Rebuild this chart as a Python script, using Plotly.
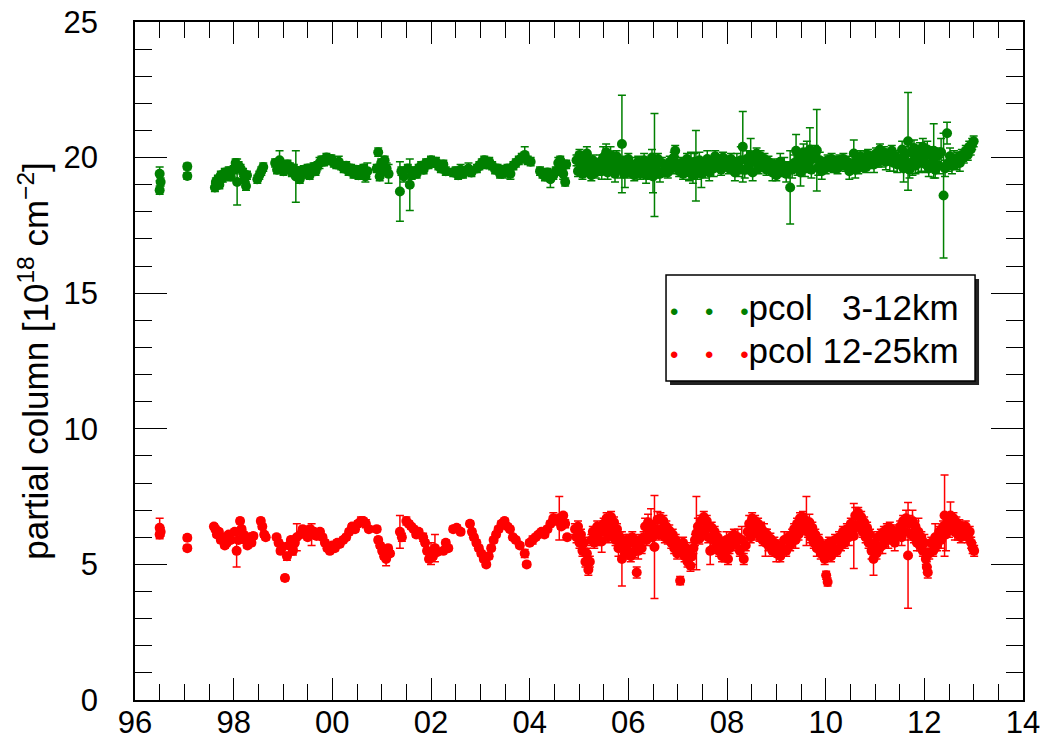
import plotly.graph_objects as go

# ---------------- data ----------------
g_year = [1996.50, 1996.52, 1996.50, 1997.06, 1997.06, 1997.62, 1997.64, 1997.68, 1997.71, 1997.74,
          1997.78, 1997.82, 1997.86, 1997.90, 1997.94, 1998.00, 1998.04, 1998.07, 1998.10, 1998.14,
          1998.19, 1998.22, 1998.25, 1998.27, 1998.48, 1998.52, 1998.56, 1998.60, 1998.84, 1998.88,
          1998.93, 1998.97, 1999.01, 1999.05, 1999.09, 1999.14, 1999.18, 1999.22, 1999.26, 1999.30,
          1999.34, 1999.38, 1999.42, 1999.46, 1999.50, 1999.54, 1999.58, 1999.62, 1999.66, 1999.70,
          1999.74, 1999.78, 1999.83, 1999.88, 1999.93, 1999.98, 2000.03, 2000.08, 2000.13, 2000.18,
          2000.23, 2000.28, 2000.33, 2000.38, 2000.43, 2000.48, 2000.53, 2000.58, 2000.63, 2000.67,
          2000.71, 2000.90, 2000.93, 2000.96, 2000.99, 2001.03, 2001.06, 2001.10, 2001.14, 2001.37,
          2001.40, 2001.45, 2001.53, 2001.57, 2001.61, 2001.66, 2001.71, 2001.75, 2001.80, 2001.85,
          2001.90, 2001.95, 2002.00, 2002.05, 2002.10, 2002.15, 2002.20, 2002.25, 2002.30, 2002.45,
          2002.50, 2002.55, 2002.60, 2002.65, 2002.70, 2002.76, 2002.82, 2002.93, 2002.98, 2003.03,
          2003.08, 2003.13, 2003.18, 2003.24, 2003.30, 2003.35, 2003.40, 2003.45, 2003.50, 2003.55,
          2003.61, 2003.67, 2003.72, 2003.78, 2003.84, 2003.90, 2003.96, 2004.02, 2004.21, 2004.26,
          2004.31, 2004.36, 2004.42, 2004.48, 2004.53, 2004.58, 2004.62, 2004.65, 2004.68, 2004.72,
          2004.74, 2004.95, 2004.98, 2005.01, 2005.04, 2005.07, 2005.10, 2005.13, 2005.16, 2005.19,
          2005.22, 2005.25, 2005.28, 2005.31, 2005.34, 2005.37, 2005.40, 2005.43, 2005.46, 2005.49,
          2005.52, 2005.55, 2005.58, 2005.61, 2005.64, 2005.67, 2005.70, 2005.73, 2005.76, 2005.80,
          2005.84, 2005.87, 2005.90, 2005.93, 2005.97, 2006.00, 2006.04, 2006.08, 2006.12, 2006.16,
          2006.20, 2006.24, 2006.28, 2006.32, 2006.36, 2006.40, 2006.44, 2006.48, 2006.50, 2006.53,
          2006.56, 2006.60, 2006.64, 2006.68, 2006.72, 2006.76, 2006.80, 2006.84, 2006.88, 2006.92,
          2006.95, 2006.99, 2007.03, 2007.07, 2007.11, 2007.15, 2007.19, 2007.23, 2007.27, 2007.31,
          2007.34, 2007.37, 2007.40, 2007.44, 2007.48, 2007.52, 2007.56, 2007.60, 2007.64, 2007.68,
          2007.73, 2007.76, 2007.80, 2007.84, 2007.88, 2007.92, 2007.96, 2008.00, 2008.04, 2008.08,
          2008.12, 2008.16, 2008.20, 2008.24, 2008.28, 2008.32, 2008.36, 2008.40, 2008.44, 2008.48,
          2008.52, 2008.56, 2008.60, 2008.64, 2008.68, 2008.72, 2008.76, 2008.80, 2008.84, 2008.88,
          2008.92, 2008.96, 2009.00, 2009.04, 2009.08, 2009.12, 2009.16, 2009.20, 2009.24, 2009.28,
          2009.32, 2009.36, 2009.40, 2009.43, 2009.46, 2009.49, 2009.52, 2009.55, 2009.58, 2009.62,
          2009.65, 2009.68, 2009.71, 2009.74, 2009.78, 2009.82, 2009.85, 2009.88, 2009.92, 2009.96,
          2010.00, 2010.04, 2010.08, 2010.12, 2010.16, 2010.20, 2010.24, 2010.28, 2010.32, 2010.36,
          2010.40, 2010.44, 2010.48, 2010.52, 2010.57, 2010.60, 2010.63, 2010.66, 2010.70, 2010.74,
          2010.78, 2010.82, 2010.86, 2010.90, 2010.94, 2010.98, 2011.02, 2011.06, 2011.10, 2011.14,
          2011.18, 2011.22, 2011.26, 2011.30, 2011.34, 2011.38, 2011.42, 2011.45, 2011.52, 2011.55,
          2011.58, 2011.61, 2011.64, 2011.67, 2011.70, 2011.73, 2011.76, 2011.79, 2011.82, 2011.85,
          2011.88, 2011.91, 2011.94, 2011.97, 2012.00, 2012.03, 2012.06, 2012.09, 2012.12, 2012.16,
          2012.19, 2012.22, 2012.26, 2012.30, 2012.34, 2012.39, 2012.42, 2012.46, 2012.49, 2012.52,
          2012.56, 2012.60, 2012.64, 2012.68, 2012.72, 2012.76, 2012.80, 2012.84, 2012.88, 2012.91,
          2012.94, 2012.97, 2013.00]

g_val = [19.40, 19.10, 18.80, 19.67, 19.32, 18.90, 19.10, 19.20, 19.00, 19.35,
         19.25, 19.45, 19.35, 19.50, 19.30, 19.55, 19.80, 19.10, 19.70, 19.60,
         19.45, 19.20, 18.95, 19.35, 19.20, 19.35, 19.50, 19.65, 19.80, 19.55,
         19.90, 19.70, 19.50, 19.60, 19.75, 19.65, 19.45, 19.60, 19.30, 19.50,
         19.20, 19.45, 19.55, 19.45, 19.60, 19.35, 19.55, 19.65, 19.50, 19.70,
         19.80, 19.90, 19.85, 20.00, 19.90, 19.95, 19.80, 19.75, 19.85, 19.70,
         19.60, 19.70, 19.50, 19.60, 19.40, 19.55, 19.35, 19.50, 19.60, 19.30,
         19.50, 19.60, 20.20, 19.30, 19.80, 19.50, 19.90, 19.60, 19.40, 18.75,
         19.50, 19.30, 19.60, 19.00, 19.35, 19.50, 19.40, 19.60, 19.70, 19.55,
         19.80, 19.75, 19.90, 19.80, 19.85, 19.70, 19.60, 19.75, 19.50, 19.45,
         19.50, 19.35, 19.55, 19.40, 19.50, 19.60, 19.45, 19.60, 19.70, 19.80,
         19.90, 19.75, 19.85, 19.70, 19.55, 19.60, 19.40, 19.55, 19.45, 19.60,
         19.40, 19.70, 19.80, 19.90, 20.00, 20.10, 19.90, 19.85, 19.50, 19.40,
         19.30, 19.45, 19.20, 19.35, 19.50, 19.80, 19.90, 19.60, 19.40, 19.10,
         19.75, 19.90, 19.50, 20.10, 19.70, 19.40, 19.95, 19.60, 20.15, 19.50,
         19.80, 19.35, 19.90, 19.60, 19.45, 19.75, 19.55, 19.85, 19.50, 20.00,
         19.65, 20.20, 19.45, 19.80, 20.10, 19.60, 19.90, 19.40, 20.05, 19.70,
         19.55, 20.50, 19.85, 19.40, 19.70, 19.95, 19.45, 19.75, 19.35, 19.60,
         19.85, 19.40, 19.65, 19.90, 19.35, 19.75, 19.50, 20.00, 19.30, 19.73,
         19.55, 19.95, 19.40, 19.80, 19.50, 19.65, 19.45, 19.85, 19.60, 20.00,
         20.25, 19.70, 19.50, 19.80, 19.40, 19.65, 19.95, 19.45, 19.70, 19.35,
         19.85, 19.70, 19.50, 19.90, 19.40, 19.75, 19.55, 19.95, 19.45, 19.80,
         19.60, 20.05, 19.70, 19.90, 19.55, 20.00, 19.75, 19.85, 19.60, 19.95,
         19.70, 19.45, 19.85, 19.60, 19.90, 20.40, 19.55, 19.95, 19.70, 20.10,
         19.45, 19.85, 20.15, 19.60, 20.05, 19.75, 19.95, 19.55, 19.85, 19.70,
         19.45, 19.75, 19.35, 19.60, 19.85, 19.50, 19.70, 19.40, 19.65, 18.90,
         19.55, 19.80, 20.25, 19.65, 20.00, 19.45, 19.85, 20.20, 19.60, 20.10,
         19.75, 20.30, 19.55, 19.95, 20.15, 20.27, 19.65, 19.90, 19.50, 19.80,
         19.60, 19.90, 19.70, 19.95, 19.65, 19.85, 19.60, 19.90, 19.75, 19.95,
         19.70, 19.85, 19.50, 19.75, 20.15, 19.55, 19.90, 19.60, 20.05, 19.70,
         19.95, 19.65, 20.10, 19.80, 20.00, 19.75, 20.15, 19.85, 20.30, 19.95,
         20.20, 19.85, 20.10, 19.90, 20.25, 19.80, 20.05, 19.75, 19.90, 20.30,
         19.60, 20.10, 19.80, 20.60, 19.55, 20.20, 19.85, 20.35, 19.70, 20.05,
         19.95, 20.25, 19.80, 20.40, 20.00, 19.75, 20.30, 19.60, 20.10, 19.80,
         20.25, 19.55, 20.05, 19.70, 20.20, 18.60, 19.60, 20.90, 19.80, 20.05,
         19.70, 19.95, 19.75, 20.00, 19.80, 20.10, 20.00, 20.25, 20.10, 20.40,
         20.30, 20.50, 20.60]

g_err = [0.25, 0.15, 0.15, 0.12, 0.12, 0.15, 0.15, 0.15, 0.15, 0.15,
         0.15, 0.15, 0.15, 0.15, 0.15, 0.15, 0.15, 0.85, 0.15, 0.15,
         0.15, 0.15, 0.15, 0.15, 0.15, 0.15, 0.15, 0.15, 0.15, 0.15,
         0.35, 0.15, 0.15, 0.15, 0.15, 0.15, 0.15, 0.15, 0.95, 0.15,
         0.15, 0.20, 0.15, 0.20, 0.15, 0.15, 0.20, 0.15, 0.15, 0.15,
         0.20, 0.15, 0.15, 0.15, 0.15, 0.15, 0.15, 0.15, 0.20, 0.15,
         0.15, 0.15, 0.15, 0.15, 0.15, 0.15, 0.15, 0.15, 0.15, 0.20,
         0.30, 0.15, 0.15, 0.15, 0.15, 0.15, 0.15, 0.20, 0.35, 1.10,
         0.15, 0.20, 0.15, 0.95, 0.15, 0.15, 0.15, 0.15, 0.15, 0.15,
         0.15, 0.15, 0.15, 0.15, 0.15, 0.15, 0.15, 0.15, 0.15, 0.15,
         0.15, 0.15, 0.20, 0.15, 0.15, 0.20, 0.15, 0.15, 0.15, 0.15,
         0.15, 0.15, 0.15, 0.15, 0.15, 0.15, 0.15, 0.15, 0.20, 0.15,
         0.20, 0.15, 0.15, 0.15, 0.15, 0.30, 0.15, 0.15, 0.15, 0.15,
         0.15, 0.15, 0.30, 0.15, 0.15, 0.20, 0.15, 0.15, 0.20, 0.15,
         0.15, 0.20, 0.20, 0.20, 0.20, 0.20, 0.20, 0.20, 0.25, 0.20,
         0.20, 0.20, 0.20, 0.20, 0.20, 0.20, 0.20, 0.25, 0.30, 0.40,
         0.20, 0.30, 0.25, 0.20, 0.30, 0.20, 0.20, 0.30, 0.20, 0.20,
         0.30, 1.80, 0.20, 0.50, 0.20, 0.20, 0.20, 0.25, 0.20, 0.20,
         0.20, 0.20, 0.20, 0.25, 0.30, 0.20, 0.30, 0.30, 0.60, 1.90,
         0.30, 0.20, 0.30, 0.20, 0.20, 0.20, 0.20, 0.20, 0.20, 0.20,
         0.20, 0.20, 0.20, 0.20, 0.20, 0.25, 0.20, 0.30, 0.50, 0.30,
         0.30, 1.30, 0.30, 0.30, 0.50, 0.20, 0.30, 0.30, 0.30, 0.20,
         0.30, 0.20, 0.20, 0.20, 0.20, 0.20, 0.20, 0.20, 0.20, 0.20,
         0.20, 0.30, 0.30, 0.30, 0.50, 1.30, 0.30, 0.30, 0.30, 0.60,
         0.30, 0.20, 0.20, 0.20, 0.20, 0.20, 0.20, 0.20, 0.20, 0.20,
         0.30, 0.20, 0.20, 0.20, 0.30, 0.20, 0.30, 0.30, 0.20, 1.35,
         0.30, 0.30, 0.60, 0.30, 0.30, 0.50, 0.30, 0.30, 0.30, 0.50,
         0.30, 0.80, 0.30, 0.30, 0.30, 1.50, 0.30, 0.30, 0.30, 0.20,
         0.20, 0.20, 0.20, 0.20, 0.20, 0.20, 0.20, 0.20, 0.20, 0.20,
         0.20, 0.20, 0.30, 0.20, 0.50, 0.30, 0.20, 0.20, 0.20, 0.20,
         0.30, 0.20, 0.20, 0.20, 0.20, 0.30, 0.20, 0.20, 0.20, 0.30,
         0.20, 0.30, 0.20, 0.40, 0.20, 0.30, 0.20, 0.30, 0.30, 0.30,
         0.50, 0.30, 0.30, 1.80, 0.30, 0.30, 0.50, 0.30, 0.30, 0.30,
         0.50, 0.30, 0.30, 0.30, 0.30, 0.30, 0.30, 0.30, 0.30, 0.30,
         1.00, 0.30, 0.30, 0.30, 0.50, 2.30, 0.30, 0.40, 0.30, 0.30,
         0.30, 0.30, 0.20, 0.20, 0.30, 0.20, 0.20, 0.20, 0.20, 0.20,
         0.20, 0.20, 0.20]

r_year = [1996.50, 1996.52, 1996.50, 1997.06, 1997.06, 1997.60, 1997.63, 1997.66, 1997.70, 1997.74,
          1997.78, 1997.82, 1997.86, 1997.90, 1997.94, 1998.02, 1998.06, 1998.10, 1998.13, 1998.16,
          1998.20, 1998.24, 1998.28, 1998.32, 1998.36, 1998.40, 1998.55, 1998.58, 1998.62, 1998.65,
          1998.87, 1998.91, 1998.95, 1998.99, 1999.04, 1999.08, 1999.12, 1999.16, 1999.20, 1999.24,
          1999.28, 1999.35, 1999.40, 1999.45, 1999.50, 1999.55, 1999.58, 1999.63, 1999.68, 1999.75,
          1999.80, 1999.85, 1999.90, 1999.95, 2000.00, 2000.05, 2000.10, 2000.15, 2000.22, 2000.28,
          2000.34, 2000.40, 2000.46, 2000.52, 2000.58, 2000.63, 2000.68, 2000.74, 2000.90, 2000.93,
          2000.97, 2001.01, 2001.05, 2001.09, 2001.13, 2001.17, 2001.37, 2001.41, 2001.50, 2001.55,
          2001.60, 2001.65, 2001.70, 2001.75, 2001.84, 2001.88, 2001.92, 2001.96, 2002.00, 2002.04,
          2002.08, 2002.12, 2002.25, 2002.30, 2002.35, 2002.45, 2002.52, 2002.60, 2002.79, 2002.83,
          2002.87, 2002.92, 2002.97, 2003.02, 2003.07, 2003.12, 2003.17, 2003.22, 2003.27, 2003.32,
          2003.37, 2003.43, 2003.49, 2003.55, 2003.60, 2003.66, 2003.72, 2003.80, 2003.90, 2003.94,
          2004.00, 2004.06, 2004.12, 2004.18, 2004.24, 2004.30, 2004.36, 2004.42, 2004.48, 2004.54,
          2004.60, 2004.64, 2004.68, 2004.72, 2004.76, 2004.92, 2004.95, 2004.98, 2005.01, 2005.04,
          2005.07, 2005.10, 2005.13, 2005.16, 2005.19, 2005.22, 2005.25, 2005.28, 2005.31, 2005.34,
          2005.37, 2005.40, 2005.43, 2005.46, 2005.50, 2005.53, 2005.56, 2005.59, 2005.62, 2005.65,
          2005.68, 2005.71, 2005.74, 2005.77, 2005.80, 2005.83, 2005.87, 2005.90, 2005.93, 2005.96,
          2005.99, 2006.02, 2006.05, 2006.08, 2006.11, 2006.14, 2006.17, 2006.20, 2006.23, 2006.27,
          2006.31, 2006.34, 2006.37, 2006.40, 2006.43, 2006.46, 2006.49, 2006.53, 2006.56, 2006.59,
          2006.62, 2006.65, 2006.68, 2006.71, 2006.74, 2006.77, 2006.80, 2006.83, 2006.87, 2006.90,
          2006.93, 2006.96, 2006.99, 2007.02, 2007.05, 2007.08, 2007.11, 2007.14, 2007.17, 2007.20,
          2007.23, 2007.26, 2007.29, 2007.32, 2007.35, 2007.38, 2007.41, 2007.44, 2007.47, 2007.50,
          2007.53, 2007.56, 2007.59, 2007.62, 2007.66, 2007.69, 2007.72, 2007.75, 2007.78, 2007.81,
          2007.84, 2007.87, 2007.90, 2007.93, 2007.96, 2007.99, 2008.02, 2008.05, 2008.08, 2008.11,
          2008.14, 2008.18, 2008.22, 2008.26, 2008.30, 2008.34, 2008.38, 2008.42, 2008.45, 2008.48,
          2008.51, 2008.54, 2008.57, 2008.60, 2008.63, 2008.66, 2008.69, 2008.72, 2008.75, 2008.78,
          2008.81, 2008.84, 2008.88, 2008.92, 2008.96, 2009.00, 2009.04, 2009.08, 2009.12, 2009.16,
          2009.20, 2009.24, 2009.28, 2009.32, 2009.36, 2009.39, 2009.42, 2009.45, 2009.48, 2009.51,
          2009.54, 2009.57, 2009.61, 2009.64, 2009.67, 2009.70, 2009.73, 2009.76, 2009.79, 2009.82,
          2009.86, 2009.90, 2009.94, 2009.98, 2010.01, 2010.04, 2010.03, 2010.07, 2010.11, 2010.15,
          2010.19, 2010.23, 2010.27, 2010.31, 2010.35, 2010.39, 2010.43, 2010.47, 2010.51, 2010.54,
          2010.57, 2010.60, 2010.63, 2010.66, 2010.69, 2010.72, 2010.75, 2010.78, 2010.81, 2010.84,
          2010.87, 2010.90, 2010.93, 2010.97, 2011.00, 2011.03, 2011.06, 2011.09, 2011.12, 2011.15,
          2011.18, 2011.21, 2011.24, 2011.27, 2011.30, 2011.33, 2011.36, 2011.40, 2011.44, 2011.51,
          2011.54, 2011.57, 2011.60, 2011.63, 2011.67, 2011.70, 2011.73, 2011.76, 2011.79, 2011.82,
          2011.85, 2011.88, 2011.91, 2011.94, 2011.97, 2012.00, 2012.03, 2012.05, 2012.07, 2012.10,
          2012.14, 2012.18, 2012.22, 2012.26, 2012.30, 2012.34, 2012.38, 2012.41, 2012.44, 2012.47,
          2012.50, 2012.53, 2012.56, 2012.59, 2012.62, 2012.65, 2012.68, 2012.71, 2012.74, 2012.77,
          2012.80, 2012.84, 2012.88, 2012.92, 2012.95, 2012.98, 2013.01]

r_val = [6.35, 6.20, 6.10, 5.98, 5.60, 6.40, 6.30, 6.10, 6.20, 5.90,
         6.00, 5.70, 5.80, 6.10, 5.90, 6.20, 5.50, 5.90, 6.60, 6.30,
         6.10, 5.90, 5.70, 6.00, 5.80, 6.05, 6.60, 6.40, 6.10, 6.00,
         6.00, 5.80, 5.50, 5.65, 4.50, 5.30, 5.70, 5.90, 5.50, 5.80,
         6.00, 6.10, 6.30, 6.20, 6.00, 6.30, 6.10, 6.20, 6.05, 6.20,
         6.00, 5.80, 5.60, 5.50, 5.70, 5.60, 5.80, 5.75, 5.90, 6.00,
         6.20, 6.40, 6.30, 6.50, 6.60, 6.60, 6.50, 6.30, 6.30, 5.90,
         5.70, 5.50, 5.30, 5.20, 5.60, 5.40, 6.20, 6.00, 6.60, 6.50,
         6.40, 6.30, 6.10, 6.20, 6.00, 5.80, 5.50, 5.20, 5.40, 5.30,
         5.60, 5.45, 5.50, 5.80, 5.60, 6.30, 6.35, 6.20, 6.50, 6.20,
         6.00, 5.80, 5.60, 5.40, 5.20, 5.00, 5.30, 5.60, 5.90, 6.10,
         6.30, 6.50, 6.60, 6.40, 6.30, 6.00, 5.90, 5.70, 5.40, 5.00,
         5.80, 5.90, 6.00, 6.10, 6.20, 6.10, 6.30, 6.50, 6.70, 6.60,
         6.70, 6.40, 6.80, 6.50, 6.00, 6.30, 6.00, 6.40, 5.80, 6.10,
         5.50, 5.80, 5.10, 5.40, 4.80, 5.10, 5.90, 6.20, 5.80, 6.10,
         6.40, 5.90, 6.20, 5.85, 6.50, 6.20, 6.70, 6.00, 6.45, 6.75,
         6.20, 6.55, 5.90, 6.30, 5.60, 6.00, 5.20, 5.70, 5.40, 5.90,
         5.50, 5.80, 5.30, 6.00, 5.45, 5.75, 4.70, 5.50, 5.90, 5.60,
         6.00, 6.40, 5.90, 6.55, 6.10, 6.45, 6.00, 5.64, 6.30, 6.65,
         6.10, 6.70, 6.30, 6.60, 6.00, 6.40, 5.95, 6.25, 5.80, 6.10,
         5.60, 5.90, 5.40, 5.70, 4.40, 5.50, 5.80, 5.30, 5.60, 5.10,
         5.40, 4.95, 5.30, 5.60, 5.90, 6.15, 6.40, 5.95, 6.60, 6.20,
         6.75, 6.30, 6.60, 6.00, 5.50, 6.35, 5.90, 6.20, 5.70, 6.00,
         5.50, 5.80, 5.30, 5.65, 5.40, 5.90, 5.20, 5.60, 6.00, 5.70,
         6.10, 5.80, 6.00, 5.50, 5.90, 5.20, 5.70, 6.20, 6.50, 6.00,
         6.70, 6.30, 6.60, 6.20, 6.50, 6.05, 6.35, 5.90, 6.20, 5.80,
         6.10, 5.70, 5.95, 5.50, 5.80, 5.40, 5.70, 5.30, 5.60, 5.90,
         5.50, 6.00, 5.70, 6.10, 6.30, 5.90, 6.50, 6.10, 6.70, 6.30,
         6.75, 6.40, 6.60, 6.20, 6.55, 6.00, 6.35, 5.80, 6.10, 5.60,
         5.90, 5.40, 5.70, 5.20, 4.60, 4.35, 5.50, 5.80, 5.30, 5.60,
         5.90, 5.50, 6.00, 5.70, 6.20, 5.80, 6.30, 6.00, 6.50, 6.20,
         6.05, 6.80, 6.40, 6.90, 6.50, 6.75, 6.20, 6.55, 6.00, 6.35,
         5.80, 6.10, 5.50, 5.20, 5.80, 5.40, 6.00, 5.60, 6.10, 5.70,
         6.20, 5.85, 6.30, 5.90, 6.35, 6.00, 6.25, 5.80, 6.10, 6.40,
         6.00, 6.60, 6.20, 6.70, 5.33, 6.50, 6.10, 6.60, 6.00, 6.40,
         5.80, 6.20, 5.70, 6.00, 5.50, 5.80, 5.20, 4.90, 4.70, 5.40,
         5.80, 5.50, 6.00, 5.70, 6.20, 5.90, 6.40, 6.80, 6.10, 6.60,
         6.30, 6.80, 6.40, 6.70, 6.20, 6.55, 6.10, 6.45, 6.00, 6.35,
         6.10, 6.40, 6.00, 6.20, 5.80, 5.60, 5.50]

r_err = [0.35, 0.15, 0.15, 0.10, 0.10, 0.10, 0.10, 0.10, 0.10, 0.10,
         0.10, 0.10, 0.10, 0.10, 0.10, 0.10, 0.60, 0.10, 0.10, 0.10,
         0.10, 0.10, 0.10, 0.10, 0.10, 0.10, 0.10, 0.10, 0.10, 0.10,
         0.10, 0.10, 0.10, 0.10, 0.10, 0.15, 0.10, 0.10, 0.15, 0.10,
         0.50, 0.10, 0.10, 0.10, 0.10, 0.10, 0.40, 0.10, 0.10, 0.10,
         0.10, 0.10, 0.10, 0.10, 0.10, 0.10, 0.10, 0.10, 0.10, 0.10,
         0.10, 0.10, 0.10, 0.10, 0.15, 0.10, 0.15, 0.10, 0.10, 0.10,
         0.10, 0.10, 0.10, 0.25, 0.10, 0.10, 0.60, 0.15, 0.15, 0.10,
         0.10, 0.10, 0.10, 0.10, 0.15, 0.10, 0.10, 0.10, 0.40, 0.10,
         0.50, 0.10, 0.10, 0.10, 0.10, 0.10, 0.10, 0.10, 0.10, 0.10,
         0.10, 0.10, 0.10, 0.10, 0.10, 0.10, 0.10, 0.10, 0.10, 0.10,
         0.10, 0.10, 0.10, 0.10, 0.10, 0.10, 0.10, 0.10, 0.15, 0.10,
         0.10, 0.15, 0.10, 0.10, 0.10, 0.10, 0.10, 0.10, 0.20, 0.10,
         0.80, 0.10, 0.10, 0.15, 0.10, 0.20, 0.20, 0.20, 0.20, 0.20,
         0.20, 0.20, 0.20, 0.20, 0.20, 0.20, 0.20, 0.20, 0.20, 0.30,
         0.20, 0.20, 0.20, 0.40, 0.20, 0.30, 0.20, 0.20, 0.30, 0.20,
         0.20, 0.20, 0.20, 0.20, 0.30, 0.20, 1.00, 0.20, 0.20, 0.20,
         0.20, 0.30, 0.20, 0.20, 0.20, 0.20, 0.20, 0.30, 0.20, 0.20,
         0.20, 0.30, 0.20, 0.30, 0.20, 0.60, 0.30, 1.90, 0.30, 0.30,
         0.20, 0.20, 0.20, 0.20, 0.20, 0.20, 0.20, 0.20, 0.20, 0.20,
         0.20, 0.20, 0.20, 0.20, 0.15, 0.20, 0.20, 0.20, 0.20, 0.20,
         0.20, 0.20, 0.30, 0.20, 0.20, 1.35, 0.30, 0.20, 0.20, 0.20,
         0.20, 0.20, 0.20, 0.20, 0.50, 0.20, 0.20, 0.20, 0.30, 0.20,
         0.20, 0.20, 0.20, 0.20, 0.30, 0.30, 0.20, 0.20, 0.20, 0.20,
         0.20, 0.20, 0.30, 0.20, 0.50, 0.20, 0.20, 0.20, 0.30, 0.20,
         0.20, 0.20, 0.20, 0.30, 0.20, 0.20, 0.20, 0.20, 0.30, 0.50,
         0.20, 0.20, 0.20, 0.20, 0.20, 0.30, 0.20, 0.20, 0.20, 0.30,
         0.20, 0.20, 0.20, 0.20, 0.20, 0.30, 0.20, 0.20, 0.20, 0.20,
         0.20, 0.30, 0.90, 0.20, 0.30, 0.20, 0.20, 0.20, 0.20, 0.30,
         0.20, 0.20, 0.20, 0.20, 0.15, 0.15, 0.20, 0.20, 0.20, 0.20,
         0.20, 0.20, 0.20, 0.20, 0.20, 0.20, 0.20, 0.30, 0.20, 0.20,
         1.20, 0.30, 0.20, 0.20, 0.20, 0.20, 0.20, 0.20, 0.20, 0.20,
         0.20, 0.20, 0.30, 0.60, 0.20, 0.20, 0.20, 0.20, 0.20, 0.30,
         0.20, 0.20, 0.20, 0.30, 0.20, 0.20, 0.20, 0.30, 0.20, 0.20,
         0.30, 0.20, 0.30, 0.30, 1.95, 0.30, 0.20, 0.40, 0.20, 0.20,
         0.30, 0.50, 0.20, 0.20, 0.20, 0.30, 0.20, 0.20, 0.20, 0.20,
         0.20, 0.20, 0.50, 0.20, 0.20, 0.30, 0.20, 1.50, 0.60, 0.20,
         0.30, 0.50, 0.20, 0.20, 0.30, 0.20, 0.20, 0.20, 0.20, 0.20,
         0.20, 0.20, 0.20, 0.20, 0.20, 0.20, 0.20]

series_names = ["pcol\u00a0\u00a0\u00a03-12km", "pcol 12-25km"]
series_colors = ["#008000", "#ff0000"]

x_tickvals = [1996, 1998, 2000, 2002, 2004, 2006, 2008, 2010, 2012, 2014]
x_ticktext = ["96", "98", "00", "02", "04", "06", "08", "10", "12", "14"]
y_tickvals = [0, 5, 10, 15, 20, 25]

FONT = "Liberation Sans, Arial, Helvetica, sans-serif"

fig = go.Figure()
for xs, ys, es, name, col in [(g_year, g_val, g_err, series_names[0], series_colors[0]),
                              (r_year, r_val, r_err, series_names[1], series_colors[1])]:
    fig.add_trace(go.Scatter(
        x=xs, y=ys, mode="markers", name=name, showlegend=False,
        marker=dict(color=col, size=10, line=dict(width=0)),
        error_y=dict(type="data", array=es, visible=True, color=col, thickness=1.5, width=4),
    ))

# legend box (drawn as shapes + text annotations)
lx0, lx1, ly0, ly1 = 0.598, 0.946, 0.4705, 0.627
sx, sy = 4 / 888, 4 / 678
fig.add_shape(type="rect", xref="paper", yref="paper", x0=lx0 + sx, x1=lx1 + sx, y0=ly0 - sy, y1=ly1 - sy,
              fillcolor="#222222", line=dict(width=0), layer="above")
fig.add_shape(type="rect", xref="paper", yref="paper", x0=lx0, x1=lx1, y0=ly0, y1=ly1,
              fillcolor="white", line=dict(color="black", width=1.5), layer="above")
dots_gap = "\u00a0" * 4
for i, (name, col) in enumerate(zip(series_names, series_colors)):
    dots = '<span style="color:%s;font-size:24px">•%s•%s•</span>' % (col, dots_gap, dots_gap)
    fig.add_annotation(xref="paper", yref="paper", x=0.6005, y=[0.5796, 0.516][i],
                       xanchor="left", yanchor="middle", showarrow=False,
                       text=dots + name, font=dict(size=35, color="black", family=FONT))

axis_common = dict(showline=True, linecolor="black", linewidth=1.5, mirror="ticks", automargin=False,
                   ticklabeloverflow="allow",
                   ticks="inside", tickcolor="black", tickwidth=1.2, showgrid=False, zeroline=False)

fig.update_xaxes(range=[1996, 2014], tickvals=x_tickvals, ticktext=x_ticktext, ticklen=22,
                 tickfont=dict(size=31, family=FONT, color="black"), ticklabelstandoff=-6,
                 minor=dict(dtick=0.5, tick0=1996, ticks="inside", ticklen=16, tickcolor="black", tickwidth=1.2),
                 **axis_common)
fig.update_yaxes(range=[0, 25], tickvals=y_tickvals, ticklen=32,
                 tickfont=dict(size=31, family=FONT, color="black"), ticklabelstandoff=29,
                 minor=dict(dtick=1, tick0=0, ticks="inside", ticklen=17, tickcolor="black", tickwidth=1.2),
                 title=dict(text="partial column [10<sup>18</sup> cm<sup>−2</sup>]",
                            font=dict(size=35, family=FONT, color="black"), standoff=4),
                 **axis_common)

fig.update_layout(width=1045, height=741, margin=dict(l=135, r=22, t=22, b=41),
                  paper_bgcolor="white", plot_bgcolor="white", showlegend=False)

# remove the default page margin so the figure fills the window exactly; hide the mode bar
fig.write_html("out.html", config={"displayModeBar": False},
               post_script="document.body.style.margin='0';")
